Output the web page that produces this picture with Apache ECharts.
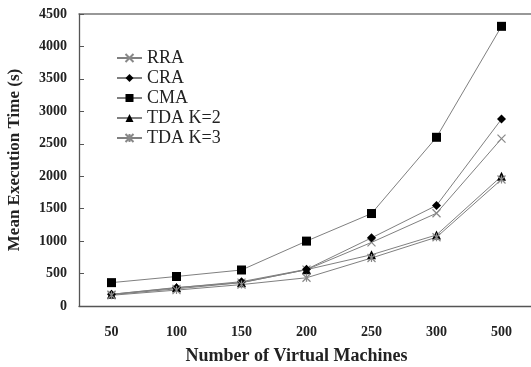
<html lang="en">
<head>
    <meta charset="UTF-8">
    <title>vm chart</title>
    <script src="https://cdn.jsdelivr.net/npm/echarts@6/dist/echarts.min.js"></script>
    <style type="text/css">
        html, body { margin: 0; padding: 0; background: #fff; }
        #main { width: 531px; height: 367px; }
    </style>
</head>
<body>
<div id="main"></div>
<script>
    var vmCounts = ['50', '100', '150', '200', '250', '300', '500'];
    var rra  = [175, 265, 360, 560, 980, 1430, 2580];
    var cra  = [180, 280, 375, 565, 1050, 1550, 2880];
    var cma  = [360, 455, 555, 1000, 1425, 2600, 4310];
    var tda2 = [180, 285, 360, 560, 790, 1095, 2000];
    var tda3 = [165, 245, 330, 435, 740, 1060, 1950];

    var xSym = 'path://M0,0 L10,10 M10,0 L0,10';
    var starSym = 'path://M0,0 L10,10 M10,0 L0,10 M5,0 L5,10';
    var font = 'Liberation Serif';

    function mk(name, data, symbol, size, markerColor, stroke) {
        return {
            name: name,
            type: 'line',
            data: data,
            symbol: symbol,
            symbolSize: size,
            lineStyle: { color: '#808080', width: 1 },
            itemStyle: stroke ? { color: 'transparent', borderColor: markerColor, borderWidth: 1.2 }
                              : { color: markerColor },
            emphasis: { disabled: true },
            animation: false
        };
    }

    var myChart = echarts.init(document.getElementById('main'));
    var option = {
        backgroundColor: '#fff',
        grid: { left: 79, top: 14, width: 455, bottom: 61, outerBoundsMode: 'none' },
        legend: {
            orient: 'vertical',
            left: 116,
            top: 49,
            padding: 0,
            itemWidth: 25,
            itemHeight: 10,
            itemGap: 2,
            textStyle: { fontFamily: font, fontSize: 18, color: '#222' },
            data: ['RRA', 'CRA', 'CMA', 'TDA K=2', 'TDA K=3']
        },
        xAxis: [{
            type: 'category',
            data: vmCounts,
            name: 'Number of Virtual Machines',
            nameLocation: 'middle',
            nameGap: 41,
            nameTextStyle: { fontFamily: font, fontSize: 18, fontWeight: 'bold', color: '#222', padding: [0, 20, 0, 0] },
            axisLine: { lineStyle: { color: '#555', width: 1.3 } },
            axisTick: { inside: true, length: 5, lineStyle: { color: '#555' } },
            axisLabel: { fontFamily: font, fontSize: 14, fontWeight: 'bold', color: '#222', margin: 19 }
        }, {
            type: 'category',
            data: vmCounts,
            position: 'top',
            axisLine: { lineStyle: { color: '#777', width: 1.5 } },
            axisTick: { show: false },
            axisLabel: { show: false }
        }],
        yAxis: {
            type: 'value',
            min: 0,
            max: 4500,
            interval: 500,
            name: 'Mean Execution Time (s)',
            nameLocation: 'middle',
            nameGap: 56,
            nameTextStyle: { fontFamily: font, fontSize: 17, fontWeight: 'bold', color: '#222' },
            axisLine: { show: true, lineStyle: { color: '#555', width: 1.3 } },
            axisTick: { show: true, inside: true, length: 5, lineStyle: { color: '#555' } },
            axisLabel: { fontFamily: font, fontSize: 14, fontWeight: 'bold', color: '#222', margin: 12,
                formatter: function (v) { return String(v); } },
            splitLine: { show: false }
        },
        series: [
            mk('RRA', rra, xSym, 8, '#888', true),
            mk('CRA', cra, 'diamond', 9, '#000', false),
            mk('CMA', cma, 'rect', 9, '#000', false),
            mk('TDA K=2', tda2, 'triangle', 9, '#000', false),
            mk('TDA K=3', tda3, starSym, 8, '#888', true)
        ]
    };
    myChart.setOption(option);
</script>
</body>
</html>
